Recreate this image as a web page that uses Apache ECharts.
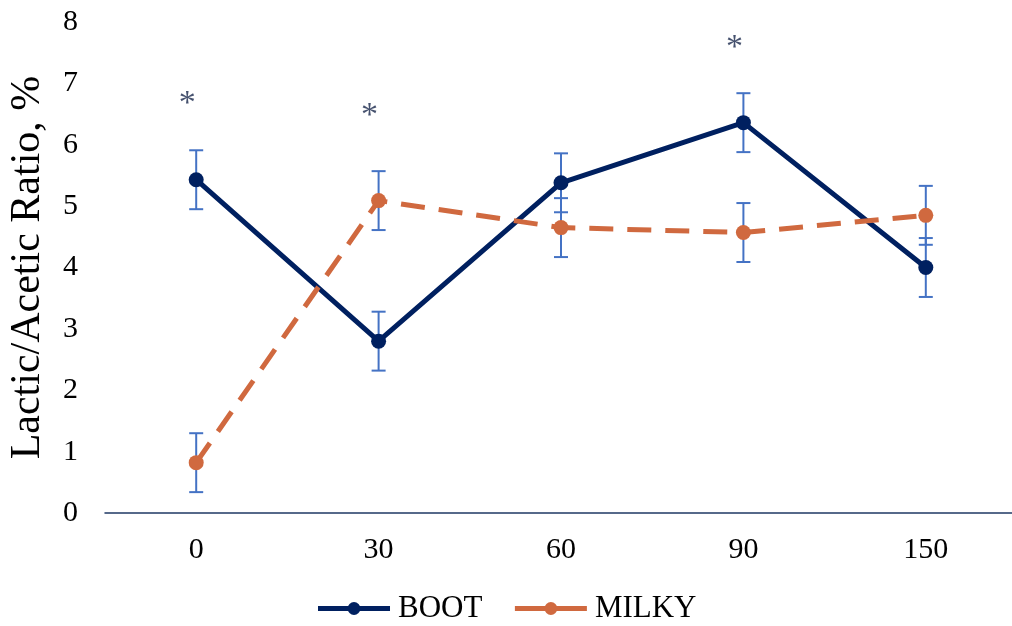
<!DOCTYPE html>
<html>
<head>
<meta charset="utf-8">
<script src="https://cdn.jsdelivr.net/npm/echarts@6/dist/echarts.min.js"></script>
<style>
html,body{margin:0;padding:0;background:#fff;}
#chart{width:1012px;height:626px;}
</style>
</head>
<body>
<div id="chart"></div>
<script>
const categories = ['0', '30', '60', '90', '150'];
const bootValues = [5.43, 2.80, 5.38, 6.36, 4.00];
const bootErrors = [0.48, 0.48, 0.48, 0.48, 0.48];
const milkyValues = [0.82, 5.09, 4.65, 4.57, 4.85];
const milkyErrors = [0.48, 0.48, 0.48, 0.48, 0.48];
const asteriskCategories = ['0', '30', '90'];
const asteriskValues = [6.66, 6.46, 7.58];
const yTicks = { min: 0, max: 8, interval: 1 };

const FONT = 'Liberation Serif';
const BOOT_COLOR = '#002060';
const MILKY_COLOR = '#D0693F';
const ERR_COLOR = '#4472C4';

function errData(vals, errs) {
  return vals.map((v, i) => [i, v - errs[i], v + errs[i]]);
}

function renderErr(params, api) {
  const x = api.value(0);
  const lo = api.coord([x, api.value(1)]);
  const hi = api.coord([x, api.value(2)]);
  const w = 7;
  const style = { stroke: ERR_COLOR, lineWidth: 2, fill: null };
  return {
    type: 'group',
    children: [
      { type: 'line', shape: { x1: lo[0], y1: lo[1], x2: hi[0], y2: hi[1] }, style },
      { type: 'line', shape: { x1: lo[0] - w, y1: lo[1], x2: lo[0] + w, y2: lo[1] }, style },
      { type: 'line', shape: { x1: hi[0] - w, y1: hi[1], x2: hi[0] + w, y2: hi[1] }, style }
    ]
  };
}

const chart = echarts.init(document.getElementById('chart'));
chart.setOption({
  animation: false,
  backgroundColor: '#fff',
  grid: { left: 105, right: -5, top: 22, bottom: 113, containLabel: false, outerBoundsMode: 'none' },
  legend: {
    bottom: -3,
    left: 'center',
    itemWidth: 72,
    itemHeight: 16,
    itemGap: 30,
    textStyle: { fontFamily: FONT, fontSize: 31, color: '#000', padding: [0, 0, 0, 3] },
    data: [
      { name: 'BOOT', lineStyle: { width: 5 } },
      { name: 'MILKY', lineStyle: { width: 5, type: 'solid' } }
    ]
  },
  xAxis: {
    type: 'category',
    data: categories,
    boundaryGap: true,
    axisLine: { show: true, lineStyle: { color: '#1F3864', width: 1.5 } },
    axisTick: { show: false },
    axisLabel: { fontFamily: FONT, fontSize: 30, color: '#000', margin: 22 },
    splitLine: { show: false }
  },
  yAxis: {
    type: 'value',
    min: yTicks.min,
    max: yTicks.max,
    interval: yTicks.interval,
    name: 'Lactic/Acetic Ratio, %',
    nameLocation: 'middle',
    nameGap: 56,
    nameTextStyle: { fontFamily: FONT, fontSize: 42, color: '#000' },
    axisLine: { show: false },
    axisTick: { show: false },
    splitLine: { show: false },
    axisLabel: { fontFamily: FONT, fontSize: 30, color: '#000', margin: 27 }
  },
  series: [
    {
      name: 'BOOT',
      type: 'line',
      data: bootValues,
      symbol: 'circle',
      symbolSize: 15,
      z: 3,
      lineStyle: { color: BOOT_COLOR, width: 5 },
      itemStyle: { color: BOOT_COLOR }
    },
    {
      name: 'MILKY',
      type: 'line',
      data: milkyValues,
      symbol: 'circle',
      symbolSize: 15,
      z: 3,
      lineStyle: { color: MILKY_COLOR, width: 5, type: [24, 14] },
      itemStyle: { color: MILKY_COLOR }
    },
    {
      name: 'bootErr',
      type: 'custom',
      renderItem: renderErr,
      data: errData(bootValues, bootErrors),
      encode: { x: 0, y: [1, 2] },
      z: 2,
      silent: true
    },
    {
      name: 'milkyErr',
      type: 'custom',
      renderItem: renderErr,
      data: errData(milkyValues, milkyErrors),
      encode: { x: 0, y: [1, 2] },
      z: 2,
      silent: true
    },
    {
      name: 'asterisks',
      type: 'scatter',
      symbolSize: 1,
      itemStyle: { color: 'rgba(0,0,0,0)' },
      data: asteriskCategories.map((c, i) => [c, asteriskValues[i]]),
      label: {
        show: true,
        position: 'inside',
        offset: [-9, 0],
        formatter: '*',
        fontFamily: FONT,
        fontSize: 34,
        color: '#16254A'
      },
      silent: true
    }
  ]
});
</script>
</body>
</html>
